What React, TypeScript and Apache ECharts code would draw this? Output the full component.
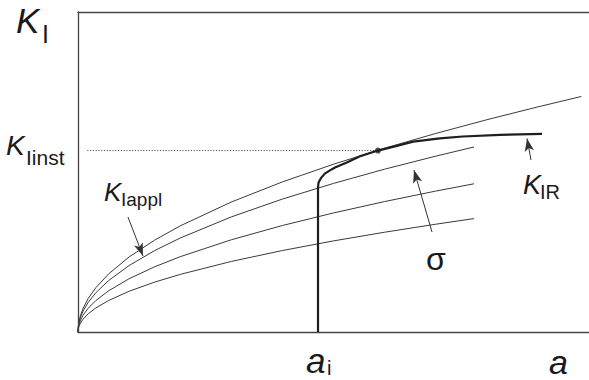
import React, { useEffect, useRef } from "react";
import * as echarts from "echarts";

// crack length a (arbitrary units, 0..10) and stress intensity K (0..10)
const aLong = [0, 0.005, 0.02, 0.05, 0.1, 0.2, 0.35, 0.6, 1, 1.5, 2, 3, 4, 5, 6, 7, 8, 9, 9.85];
const aShort = [0, 0.005, 0.02, 0.05, 0.1, 0.2, 0.35, 0.6, 1, 1.5, 2, 3, 4, 5, 6, 7, 7.75];

// applied K curves for four stress levels (highest first)
const kAppl1 = [0, 0.166, 0.332, 0.524, 0.742, 1.049, 1.387, 1.816, 2.345, 2.872, 3.316, 4.062, 4.69, 5.244, 5.744, 6.204, 6.633, 7.035, 7.36];
const kAppl2 = [0, 0.147, 0.294, 0.464, 0.657, 0.929, 1.229, 1.609, 2.077, 2.544, 2.937, 3.597, 4.154, 4.644, 5.088, 5.495, 5.782];
const kAppl3 = [0, 0.118, 0.235, 0.372, 0.526, 0.744, 0.984, 1.289, 1.664, 2.038, 2.353, 2.882, 3.328, 3.721, 4.076, 4.403, 4.632];
const kAppl4 = [0, 0.09, 0.18, 0.285, 0.403, 0.569, 0.753, 0.986, 1.273, 1.559, 1.8, 2.205, 2.546, 2.847, 3.118, 3.368, 3.544];

// R-curve (resistance) starting at initial crack length a_i
const rA = [4.697, 4.697, 4.7, 4.71, 4.75, 4.83, 4.93, 5.03, 5.26, 5.52, 5.87, 6.2, 6.56, 7.08, 7.53, 8.26, 9.08];
const rK = [0, 4.5, 4.58, 4.68, 4.8, 4.95, 5.05, 5.14, 5.3, 5.49, 5.67, 5.8, 5.95, 6.05, 6.11, 6.16, 6.19];

// instability point (tangency)
const instA = 5.87;
const instK = 5.67;
const dottedStartA = 0.18;

// annotation arrows [fromA, fromK, toA, toK]
const arrowKappl = [0.978, 3.594, 1.272, 2.375];
const arrowSigma = [6.928, 3.125, 6.575, 5.06];
const arrowKR = [8.865, 5.375, 8.787, 6.05];

const zip = (xs: number[], ys: number[]) => xs.map((x, i) => [x, ys[i]]);

const FONT = '"Liberation Sans", Arial, sans-serif';
const TXT = "#1a1a1a";

function txt(text: string, x: number, y: number, size: number, italic: boolean) {
  return {
    type: "text",
    x,
    y,
    silent: true,
    style: {
      text,
      fontSize: size,
      fontFamily: FONT,
      fontStyle: italic ? "italic" : "normal",
      fill: TXT,
      align: "left",
      verticalAlign: "middle",
    },
  };
}

export default function App() {
  const ref = useRef<HTMLDivElement>(null);
  useEffect(() => {
    if (!ref.current) return;
    const chart = echarts.init(ref.current, undefined, { renderer: "svg" });
    const axisCommon = {
      type: "value",
      min: 0,
      max: 10,
      axisLine: { show: true, onZero: false, lineStyle: { color: "#444", width: 1.3 } },
      axisTick: { show: false },
      axisLabel: { show: false },
      splitLine: { show: false },
    };
    const thin = (data: number[][]) => ({
      type: "line",
      data,
      showSymbol: false,
      symbol: "none",
      lineStyle: { color: "#3a3a3a", width: 1 },
      z: 2,
    });
    const arrowLine = (a: number[]) => [
      { coord: [a[0], a[1]] },
      { coord: [a[2], a[3]] },
    ];
    chart.setOption({
      animation: false,
      grid: { left: 78, top: 12, right: 0, bottom: 48 },
      xAxis: [
        { ...axisCommon, position: "bottom" },
        { ...axisCommon, position: "top" },
      ],
      yAxis: [{ ...axisCommon, position: "left" }],
      series: [
        thin(zip(aLong, kAppl1)),
        thin(zip(aShort, kAppl2)),
        thin(zip(aShort, kAppl3)),
        thin(zip(aShort, kAppl4)),
        {
          type: "line",
          data: [
            [dottedStartA, instK],
            [instA, instK],
          ],
          showSymbol: false,
          symbol: "none",
          lineStyle: { color: "#555", width: 1, type: [1.2, 1.6] },
          z: 1,
        },
        {
          type: "line",
          data: zip(rA, rK),
          showSymbol: false,
          symbol: "none",
          lineStyle: { color: "#1e1e1e", width: 2.2 },
          z: 4,
          markLine: {
            silent: true,
            symbol: ["none", "arrow"],
            symbolSize: [7, 13],
            label: { show: false },
            lineStyle: { color: "#333", width: 1, type: "solid" },
            data: [arrowLine(arrowKappl), arrowLine(arrowSigma), arrowLine(arrowKR)],
          },
        },
        {
          type: "scatter",
          data: [[instA, instK]],
          symbolSize: 6,
          itemStyle: { color: "#1e1e1e" },
          z: 5,
        },
      ],
      graphic: [
        txt("K", 16, 20.5, 35, true),
        txt("I", 42, 34, 25, false),
        txt("K", 6, 145, 28, true),
        txt("Iinst", 26, 157, 21, false),
        txt("K", 104, 191.5, 26, true),
        txt("Iappl", 121, 199, 19, false),
        txt("K", 523, 185, 27, true),
        txt("IR", 540, 192, 20, false),
        txt("σ", 426, 259, 32, false),
        txt("a", 306, 360, 35, true),
        txt("i", 327, 368, 20, false),
        txt("a", 549, 362, 34, true),
      ],
    });
    return () => chart.dispose();
  }, []);
  return (
    <div
      ref={ref}
      style={{ position: "absolute", left: 0, top: 0, width: 589, height: 380, background: "#fff" }}
    />
  );
}
